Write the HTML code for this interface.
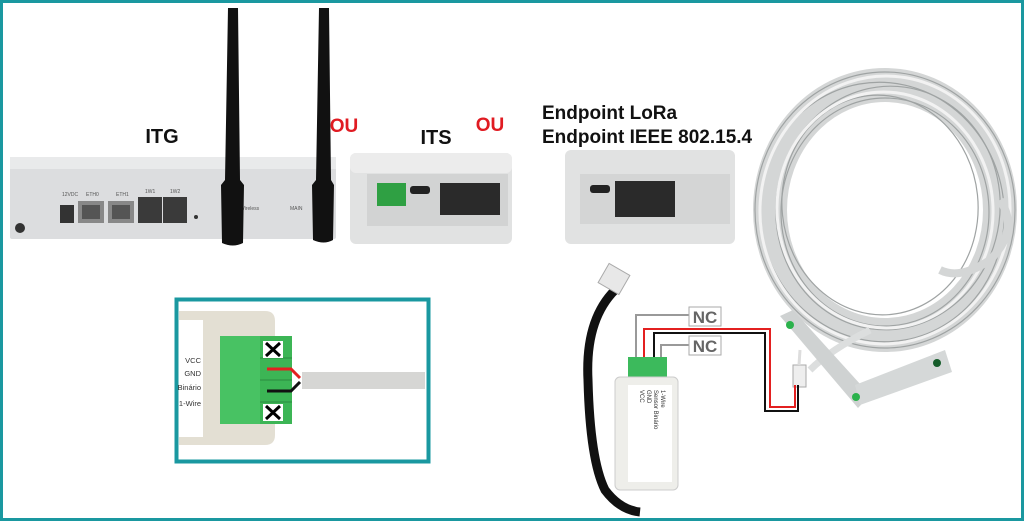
<!DOCTYPE html>
<html><head><meta charset="utf-8"><style>
html,body{margin:0;padding:0;background:#fff}
body{width:1024px;height:521px;overflow:hidden;font-family:"Liberation Sans",sans-serif}
</style></head><body>
<svg width="1024" height="521" viewBox="0 0 1024 521" xmlns="http://www.w3.org/2000/svg" font-family="Liberation Sans, sans-serif">
<rect x="1.5" y="1.5" width="1021" height="518" fill="#fff" stroke="#1a98a0" stroke-width="3"/>

<!-- ITG -->
<rect x="10" y="157" width="326" height="82" fill="#dcdddf" rx="2"/>
<rect x="10" y="157" width="326" height="12" fill="#e9eaeb"/>
<rect x="60" y="205" width="14" height="18" fill="#333"/>
<rect x="78" y="201" width="26" height="22" fill="#888"/><rect x="82" y="205" width="18" height="14" fill="#555"/>
<rect x="108" y="201" width="26" height="22" fill="#888"/><rect x="112" y="205" width="18" height="14" fill="#555"/>
<rect x="138" y="197" width="24" height="26" fill="#3a3a3a"/>
<rect x="163" y="197" width="24" height="26" fill="#3a3a3a"/>
<circle cx="20" cy="228" r="5" fill="#333"/>
<circle cx="196" cy="217" r="2" fill="#333"/>
<text x="62" y="196" font-size="5" fill="#555">12VDC</text>
<text x="86" y="196" font-size="5" fill="#555">ETH0</text>
<text x="116" y="196" font-size="5" fill="#555">ETH1</text>
<text x="145" y="193" font-size="5" fill="#555">1W1</text>
<text x="170" y="193" font-size="5" fill="#555">1W2</text>
<text x="290" y="210" font-size="5" fill="#555">MAIN</text>
<text x="240" y="210" font-size="5" fill="#555">Wireless</text>
<!-- antennas -->
<path d="M228 8 L238 8 L240 180 L244 185 L243 243 Q233 248 222 243 L221 185 L225 180 Z" fill="#111"/>
<path d="M319 8 L329 8 L331 180 L334 185 L333 240 Q324 245 313 240 L312 185 L316 180 Z" fill="#111"/>

<text x="162" y="143" font-size="20" font-weight="bold" text-anchor="middle" fill="#111">ITG</text>
<text x="344" y="132" font-size="19" font-weight="bold" text-anchor="middle" fill="#e01b22">OU</text>

<!-- ITS -->
<rect x="350" y="153" width="162" height="91" rx="6" fill="#e1e2e2"/>
<rect x="350" y="153" width="162" height="20" rx="6" fill="#ececec"/>
<rect x="367" y="174" width="141" height="52" fill="#d2d3d3"/>
<rect x="377" y="183" width="29" height="23" fill="#2fa043"/>
<rect x="410" y="186" width="20" height="8" rx="3" fill="#222"/>
<rect x="440" y="183" width="60" height="32" fill="#2a2a2a"/>
<text x="436" y="144" font-size="20" font-weight="bold" text-anchor="middle" fill="#111">ITS</text>
<text x="490" y="131" font-size="19" font-weight="bold" text-anchor="middle" fill="#e01b22">OU</text>

<!-- Endpoint -->
<text x="542" y="119" font-size="19" font-weight="bold" fill="#111">Endpoint LoRa</text>
<text x="542" y="143" font-size="19" font-weight="bold" fill="#111">Endpoint IEEE 802.15.4</text>
<rect x="565" y="150" width="170" height="94" rx="6" fill="#e1e2e2"/>
<rect x="580" y="174" width="150" height="50" fill="#d4d5d5"/>
<rect x="590" y="185" width="20" height="8" rx="3" fill="#222"/>
<rect x="615" y="181" width="60" height="36" fill="#2a2a2a"/>

<!-- cable coil -->
<g fill="none">
<ellipse cx="885" cy="210" rx="115" ry="125" stroke="#d4d6d6" stroke-width="34"/>
<g stroke="#9fa3a3" stroke-width="1.2">
<ellipse cx="885" cy="210" rx="130" ry="138"/>
<ellipse cx="882" cy="212" rx="122" ry="130" transform="rotate(-10 882 212)"/>
<ellipse cx="888" cy="208" rx="112" ry="122" transform="rotate(8 888 208)"/>
<ellipse cx="885" cy="212" rx="104" ry="114"/>
<ellipse cx="880" cy="205" rx="98" ry="110" transform="rotate(-6 880 205)"/>
</g>
<g stroke="#f2f2f2" stroke-width="3">
<ellipse cx="885" cy="210" rx="125" ry="134" transform="rotate(4 885 210)"/>
<ellipse cx="885" cy="210" rx="108" ry="118" transform="rotate(-4 885 210)"/>
</g>
<path d="M1000 200 Q1020 230 990 260 Q960 280 940 270" stroke="#d4d6d6" stroke-width="8"/>
<path d="M870 330 Q830 350 810 370" stroke="#dcdede" stroke-width="7"/>
</g>
<!-- magnetic sensors -->
<path d="M780 316 L793 310 L870 395 L858 408 Z" fill="#cfd2d2"/>
<circle cx="790" cy="325" r="4" fill="#2bb24c"/>
<path d="M855 385 L945 350 L952 372 L860 405 Z" fill="#d5d8d8"/>
<circle cx="937" cy="363" r="4" fill="#155c2a"/>
<circle cx="856" cy="397" r="4" fill="#2bb24c"/>
<rect x="793" y="365" width="13" height="22" fill="#eee" stroke="#aaa"/>
<path d="M799 365 L800 350" stroke="#ddd" stroke-width="3"/>

<!-- black cable + RJ45 -->
<path d="M615 290 Q585 320 588 380 Q590 460 605 490 Q620 510 640 512" fill="none" stroke="#111" stroke-width="9"/>
<rect x="602" y="268" width="24" height="22" fill="#e8e8e8" stroke="#aaa" transform="rotate(30 614 279)"/>

<!-- wires -->
<path d="M636 358 V315 H689" fill="none" stroke="#999" stroke-width="2"/>
<path d="M644 358 V329 H770 V407 H795 V385" fill="none" stroke="#e32020" stroke-width="2"/>
<path d="M654 358 V333 H765 V411 H798 V385" fill="none" stroke="#111" stroke-width="2"/>
<path d="M661 358 V345 H689" fill="none" stroke="#999" stroke-width="2"/>
<rect x="689" y="307" width="32" height="19" fill="#fff" stroke="#aaa"/>
<text x="705" y="323" font-size="17" font-weight="bold" text-anchor="middle" fill="#666">NC</text>
<rect x="689" y="336" width="32" height="19" fill="#fff" stroke="#aaa"/>
<text x="705" y="352" font-size="17" font-weight="bold" text-anchor="middle" fill="#666">NC</text>

<!-- adapter -->
<rect x="628" y="357" width="39" height="22" fill="#3cba5c"/>
<rect x="615" y="377" width="63" height="113" rx="5" fill="#eeeeea" stroke="#ccc"/>
<rect x="628" y="385" width="44" height="97" fill="#fff"/>
<g font-size="6" fill="#333"><text transform="translate(640 390) rotate(90)">VCC</text><text transform="translate(647 390) rotate(90)">GND</text><text transform="translate(654 390) rotate(90)">Sensor Binário</text><text transform="translate(661 390) rotate(90)">1-Wire</text></g>

<!-- inset -->
<rect x="176.5" y="299.5" width="252" height="162" fill="#fff" stroke="#1a98a0" stroke-width="4"/>
<rect x="302" y="372" width="123" height="17" fill="#d6d6d4"/>
<path d="M179 311 H265 Q275 311 275 321 V435 Q275 445 265 445 H179 Z" fill="#e3dfd3"/>
<rect x="179" y="320" width="24" height="117" fill="#fff"/>
<g font-size="7.5" fill="#333" text-anchor="end"><text x="201" y="363">VCC</text><text x="201" y="376">GND</text><text x="201" y="390">Binário</text><text x="201" y="406">1-Wire</text></g>
<rect x="220" y="336" width="72" height="88" fill="#3cb555"/>
<rect x="220" y="336" width="40" height="88" fill="#48c263"/>
<g stroke="#2a8a40" stroke-width="1"><line x1="260" y1="358" x2="292" y2="358"/><line x1="260" y1="380" x2="292" y2="380"/><line x1="260" y1="402" x2="292" y2="402"/></g>
<rect x="263" y="341" width="20" height="17" fill="#fff"/>
<path d="M266 343 L280 356 M280 343 L266 356" stroke="#000" stroke-width="3"/>
<rect x="263" y="404" width="20" height="17" fill="#fff"/>
<path d="M266 406 L280 419 M280 406 L266 419" stroke="#000" stroke-width="3"/>
<path d="M267 369 H291 L300 378" fill="none" stroke="#e32020" stroke-width="3"/>
<path d="M267 391 H291 L300 382" fill="none" stroke="#111" stroke-width="3"/>
</svg>
</body></html>
